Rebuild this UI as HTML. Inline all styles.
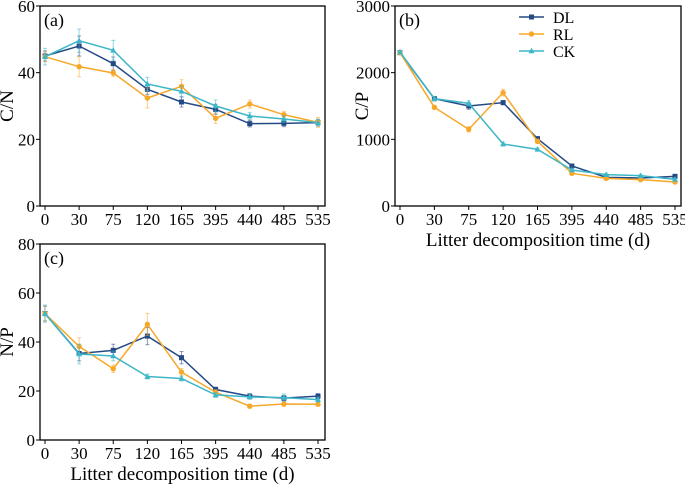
<!DOCTYPE html>
<html><head><meta charset="utf-8"><style>
body{margin:0;background:#fff;}
svg{display:block;font-family:"Liberation Serif",serif;}
</style></head><body>
<svg id="chart" width="685" height="485"></svg>
<script>
const categories=["0","30","75","120","165","395","440","485","535"];
const cnDL=[45,48,42.7,35,31.2,29,24.7,24.8,25];
const cnRL=[44.8,41.8,39.9,32.4,35.9,26.3,30.6,27.4,25.1];
const cnCK=[44.8,49.6,46.7,36.6,34.4,30,27,26.1,25];
const cnErrDL=[1.5,3,2,1.5,1.5,1.5,1,1,1];
const cnErrRL=[1.5,3,1,3,2,1.5,1.2,1,1.5];
const cnErrCK=[2.5,3.5,3,2,1.5,1.8,1,1,1];
const cpDL=[2300,1610,1500,1550,1010,600,430,420,445];
const cpRL=[2300,1480,1150,1700,970,490,415,395,360];
const cpCK=[2310,1610,1540,930,850,540,470,455,400];
const cpErrDL=[20,30,50,30,30,20,20,20,20];
const cpErrRL=[20,30,40,50,30,20,20,20,20];
const cpErrCK=[20,30,40,30,20,20,20,20,20];
const npDL=[51.6,35.3,36.6,42.4,33.6,20.6,17.9,17.1,17.9];
const npRL=[51.6,38.2,29.1,47.2,27.7,19.5,13.8,14.7,14.6];
const npCK=[51.6,35.1,34.3,25.9,25.1,18.4,17.6,17.3,16.5];
const npErrDL=[3,3,2.5,3.5,2.5,1,1,1,1];
const npErrRL=[3,3.5,1.5,4.5,1.5,1,0.8,1,0.8];
const npErrCK=[3.5,4,2,1,1,1,1,1.5,1];
const cnTicks=[0,20,40,60];
const cpTicks=[0,1000,2000,3000];
const npTicks=[0,20,40,60,80];
const colors={DL:"#244a86",RL:"#f7a829",CK:"#3db6c8"};
const NS="http://www.w3.org/2000/svg";
const svg=document.getElementById('chart');
function el(t,a,p){const e=document.createElementNS(NS,t);for(const k in a)e.setAttribute(k,a[k]);(p||svg).appendChild(e);return e;}
function panel(o){
  const g=el('g',{});
  
  
  const {L,R,T,B,x0,x1,ymax}=o;
  const xs=i=>x0+(x1-x0)*i/(categories.length-1);
  const ys=v=>B-(B-T)*v/ymax;
  const fr=el('rect',{x:L,y:T,width:R-L,height:B-T,fill:'none',stroke:'#000','stroke-width':1.3},g);
  
  o.ticks.forEach(v=>{
    el('line',{x1:L-4,x2:L,y1:ys(v),y2:ys(v),stroke:'#000'},g);
    const t=el('text',{x:L-5,y:ys(v)+6,'text-anchor':'end','font-size':17},g);t.textContent=v;
    
  });
  categories.forEach((c,i)=>{
    el('line',{x1:xs(i),x2:xs(i),y1:B,y2:B+4,stroke:'#000'},g);
    const t=el('text',{x:xs(i),y:B+19,'text-anchor':'middle','font-size':17},g);t.textContent=c;
    
  });
  const yl=el('text',{x:0,y:0,'text-anchor':'middle','font-size':19,transform:`translate(${L-27},${(T+B)/2}) rotate(-90)`},g);
  yl.textContent=o.ylabel;
  const pl=el('text',{x:L+4,y:T+20,'font-size':18},g);pl.textContent=o.letter;
  
  if(o.xlabel){const xl=el('text',{x:(L+R)/2,y:B+40,'text-anchor':'middle','font-size':19},g);xl.textContent='Litter decomposition time (d)';
    }
  ['DL','RL','CK'].forEach((k,si)=>{
    const vals=o.series[si],errs=o.errs[si],col=colors[k];
    const sg=el('g',{},g);
    
    
    vals.forEach((v,i)=>{
      const x=xs(i);
      el('line',{x1:x,x2:x,y1:ys(v-errs[i]),y2:ys(v+errs[i]),stroke:col,'stroke-opacity':0.55},sg);
      el('line',{x1:x-2,x2:x+2,y1:ys(v+errs[i]),y2:ys(v+errs[i]),stroke:col,'stroke-opacity':0.55},sg);
      el('line',{x1:x-2,x2:x+2,y1:ys(v-errs[i]),y2:ys(v-errs[i]),stroke:col,'stroke-opacity':0.55},sg);
    });
    const ln=el('polyline',{points:vals.map((v,i)=>xs(i)+','+ys(v)).join(' '),fill:'none',stroke:col,'stroke-width':1.5},sg);
    
    vals.forEach((v,i)=>marker(k,xs(i),ys(v),sg));
  });
}
function marker(k,x,y,p){
  const col=colors[k];let m;
  if(k==='DL')m=el('rect',{x:x-2.5,y:y-2.5,width:5,height:5,fill:col},p);
  else if(k==='RL')m=el('circle',{cx:x,cy:y,r:2.7,fill:col},p);
  else m=el('polygon',{points:`${x},${y-3.2} ${x-3},${y+2.3} ${x+3},${y+2.3}`,fill:col},p);
  
  
}
panel({name:'panel-a-cn',L:40,R:325,T:6,B:206,x0:45,x1:318,ymax:60,ticks:cnTicks,ylabel:'C/N',letter:'(a)',xlabel:false,
  series:[cnDL,cnRL,cnCK],errs:[cnErrDL,cnErrRL,cnErrCK]});
panel({name:'panel-b-cp',L:395,R:681,T:6,B:206,x0:400,x1:675,ymax:3000,ticks:cpTicks,ylabel:'C/P',letter:'(b)',xlabel:true,
  series:[cpDL,cpRL,cpCK],errs:[cpErrDL,cpErrRL,cpErrCK]});
panel({name:'panel-c-np',L:40,R:325,T:244,B:440,x0:45,x1:318,ymax:80,ticks:npTicks,ylabel:'N/P',letter:'(c)',xlabel:true,
  series:[npDL,npRL,npCK],errs:[npErrDL,npErrRL,npErrCK]});
const lg=el('g',{});


['DL','RL','CK'].forEach((k,i)=>{
  const y=17+i*17;
  const e=el('g',{},lg);
  
  
  el('line',{x1:519,x2:544,y1:y,y2:y,stroke:colors[k],'stroke-width':1.5},e);
  marker(k,531.5,y,e);
  const t=el('text',{x:553,y:y+6,'font-size':16},e);t.textContent=k;
});
</script>
</body></html>
